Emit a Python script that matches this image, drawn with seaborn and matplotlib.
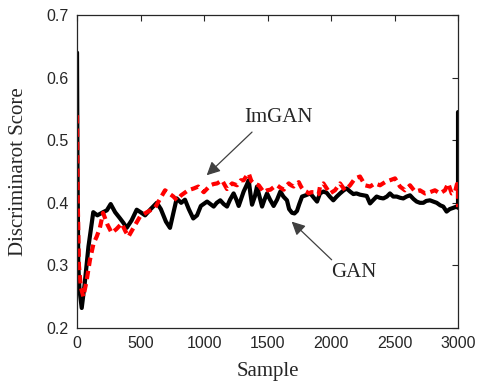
import matplotlib
matplotlib.use("Agg")
import matplotlib.pyplot as plt
import seaborn as sns
import pandas as pd

# ---- data ----
gan_x = [0, 4, 10, 20, 37, 60, 90, 128, 160, 205, 235, 265, 300, 339, 365, 391, 430, 470,
         500, 536, 580, 628, 660, 700, 732, 760, 785, 820, 850, 880, 915, 945, 975, 1024,
         1050, 1076, 1100, 1128, 1155, 1181, 1205, 1233, 1255, 1273, 1290, 1312, 1335, 1352,
         1365, 1378, 1400, 1417, 1437, 1457, 1476, 1496, 1520, 1548, 1575, 1601, 1625, 1653,
         1670, 1693, 1712, 1732, 1750, 1772, 1800, 1837, 1865, 1890, 1913, 1940, 1966, 1990,
         2018, 2045, 2071, 2100, 2123, 2150, 2176, 2200, 2228, 2255, 2281, 2307, 2335, 2359,
         2385, 2412, 2440, 2464, 2490, 2517, 2545, 2569, 2595, 2622, 2650, 2674, 2700, 2727,
         2750, 2779, 2805, 2832, 2860, 2884, 2910, 2935, 2963, 2989, 3000, 3000]
gan_y = [0.64, 0.45, 0.30, 0.26, 0.232, 0.27, 0.33, 0.385, 0.38, 0.385, 0.388, 0.398, 0.385,
         0.375, 0.368, 0.36, 0.372, 0.389, 0.385, 0.38, 0.39, 0.40, 0.39, 0.37, 0.36, 0.385,
         0.407, 0.40, 0.405, 0.39, 0.375, 0.38, 0.395, 0.402, 0.398, 0.394, 0.40, 0.404, 0.398,
         0.394, 0.405, 0.415, 0.405, 0.395, 0.405, 0.418, 0.428, 0.436, 0.415, 0.397, 0.41,
         0.426, 0.41, 0.394, 0.405, 0.415, 0.405, 0.395, 0.405, 0.418, 0.41, 0.404, 0.39, 0.384,
         0.383, 0.387, 0.398, 0.41, 0.412, 0.415, 0.408, 0.402, 0.415, 0.418, 0.416, 0.41,
         0.404, 0.41, 0.415, 0.42, 0.423, 0.418, 0.414, 0.415, 0.413, 0.412, 0.411, 0.399,
         0.405, 0.41, 0.408, 0.407, 0.41, 0.415, 0.41, 0.41, 0.408, 0.407, 0.41, 0.412, 0.406,
         0.402, 0.40, 0.40, 0.403, 0.404, 0.402, 0.40, 0.396, 0.394, 0.386, 0.39, 0.392, 0.394,
         0.392, 0.545]

imgan_x = [0, 6, 15, 30, 50, 75, 102, 130, 155, 180, 205, 240, 273, 310, 352, 380, 405, 450,
           496, 550, 614, 650, 693, 725, 759, 787, 820, 875, 920, 955, 998, 1050, 1076, 1103,
           1142, 1181, 1221, 1260, 1290, 1312, 1335, 1352, 1372, 1391, 1431, 1470, 1497, 1523,
           1549, 1575, 1602, 1628, 1648, 1667, 1686, 1706, 1726, 1746, 1766, 1785, 1805, 1824,
           1845, 1864, 1884, 1903, 1913, 1940, 1992, 2031, 2071, 2110, 2150, 2189, 2228, 2268,
           2307, 2346, 2386, 2425, 2464, 2504, 2543, 2582, 2622, 2661, 2700, 2740, 2779, 2818,
           2858, 2897, 2923, 2950, 2976, 2992, 3000, 3000]
imgan_y = [0.54, 0.40, 0.30, 0.265, 0.25, 0.275, 0.309, 0.335, 0.346, 0.36, 0.384, 0.365,
           0.352, 0.358, 0.367, 0.355, 0.346, 0.362, 0.378, 0.385, 0.392, 0.405, 0.42, 0.415,
           0.41, 0.404, 0.412, 0.42, 0.423, 0.426, 0.417, 0.428, 0.43, 0.431, 0.436, 0.422,
           0.431, 0.428, 0.436, 0.436, 0.443, 0.447, 0.435, 0.431, 0.428, 0.417, 0.42, 0.421,
           0.425, 0.428, 0.424, 0.421, 0.427, 0.431, 0.428, 0.426, 0.43, 0.433, 0.425, 0.42,
           0.418, 0.415, 0.417, 0.417, 0.413, 0.414, 0.426, 0.431, 0.415, 0.42, 0.431, 0.42,
           0.428, 0.439, 0.442, 0.428, 0.426, 0.431, 0.428, 0.433, 0.436, 0.439, 0.426, 0.42,
           0.428, 0.418, 0.42, 0.415, 0.417, 0.42, 0.415, 0.42, 0.431, 0.415, 0.417, 0.43,
           0.42, 0.393]

x_ticks = [0, 500, 1000, 1500, 2000, 2500, 3000]
y_ticks = [0.2, 0.3, 0.4, 0.5, 0.6, 0.7]
x_label = "Sample"
y_label = "Discriminarot Score"

df_gan = pd.DataFrame({"Sample": gan_x, "Score": gan_y})
df_imgan = pd.DataFrame({"Sample": imgan_x, "Score": imgan_y})

# ---- style ----
sns.set_style("white")
plt.rcParams["font.family"] = ["Liberation Sans", "DejaVu Sans"]

fig = plt.figure(figsize=(4.79, 3.88), dpi=100)
ax = fig.add_axes([0.1608, 0.1546, 0.7954, 0.8067])

sns.lineplot(data=df_gan, x="Sample", y="Score", ax=ax, sort=False, estimator=None,
             color="black", linewidth=3.0)
sns.lineplot(data=df_imgan, x="Sample", y="Score", ax=ax, sort=False, estimator=None,
             color="#ff0000", linewidth=3.0, dashes=False)
ax.lines[-1].set_dashes((2.0, 1.2))
ax.lines[-1].set_dash_capstyle("butt")

ax.set_xlim(0, 3000)
ax.set_ylim(0.2, 0.7)
ax.set_xticks(x_ticks)
ax.set_yticks(y_ticks)
ax.set_xticklabels([str(t) for t in x_ticks])
ax.set_yticklabels([f"{t:.1f}" for t in y_ticks])
ax.tick_params(direction="in", length=4, width=0.8, top=True, right=True,
               labelsize=11.5, colors="#262626", pad=6)
for sp in ax.spines.values():
    sp.set_color("#262626")
    sp.set_linewidth(0.9)

serif = ["Liberation Serif", "DejaVu Serif"]
ax.set_xlabel(x_label, fontsize=15, family=serif, color="#262626", labelpad=8)
ax.set_ylabel(y_label, fontsize=15, family=serif, color="#262626", labelpad=13)

arrow = dict(arrowstyle="-|>", color="#404040", lw=0.9, mutation_scale=20,
             shrinkA=0, shrinkB=0)
ax.annotate("", xy=(1021, 0.444), xytext=(1378, 0.513), arrowprops=arrow)
ax.text(1583, 0.537, "ImGAN", family=serif, fontsize=15, ha="center", va="center",
        color="#262626")
ax.annotate("", xy=(1690, 0.370), xytext=(2005, 0.309), arrowprops=arrow)
ax.text(2181, 0.289, "GAN", family=serif, fontsize=15, ha="center", va="center",
        color="#262626")

fig.savefig("out.png", dpi=100)
